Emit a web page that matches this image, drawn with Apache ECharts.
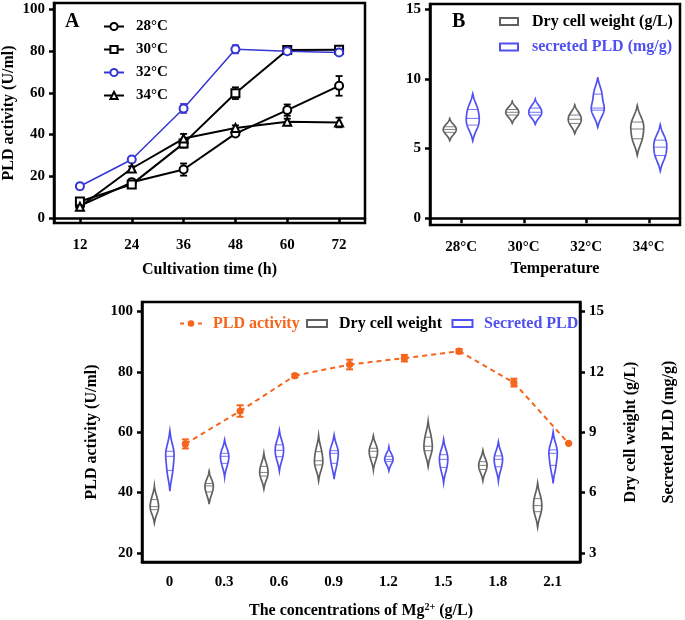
<!DOCTYPE html>
<html><head><meta charset="utf-8">
<script src="https://cdn.jsdelivr.net/npm/echarts@6/dist/echarts.min.js"></script>
<style>html,body{margin:0;padding:0;background:#fff}#c{width:685px;height:620px}</style>
</head><body><div id="c"></div>
<script>
// ---------- Panel A data ----------
const timeCats = ['12', '24', '36', '48', '60', '72'];
const act28 = [5.9, 17.2, 23.3, 40.5, 51.7, 63.3];
const err28 = [1.0, 1.5, 2.9, 1.2, 2.7, 4.7];
const act30 = [8.0, 16.2, 35.8, 59.8, 80.4, 80.5];
const err30 = [1.0, 1.2, 2.0, 2.8, 1.2, 1.0];
const act32 = [15.3, 28.1, 52.5, 80.8, 79.8, 79.2];
const err32 = [1.5, 1.0, 2.2, 2.0, 1.0, 1.0];
const act34 = [5.5, 23.8, 38.1, 43.2, 46.1, 45.8];
const err34 = [1.0, 1.0, 2.2, 1.2, 1.5, 2.3];
const aYTicks = [0, 20, 40, 60, 80, 100];

// ---------- Panel B data (three replicates each) ----------
const tempCats = ['28°C', '30°C', '32°C', '34°C'];
const dcwTemp = [[6.16, 6.37, 6.56], [7.4, 7.6, 7.8], [6.8, 7.1, 7.4], [5.7, 6.4, 6.9]];
const pldTemp = [[6.68, 7.16, 7.8], [7.4, 7.6, 7.9], [7.75, 7.9, 8.9], [4.5, 5.1, 5.6]];
const bYTicks = [0, 5, 10, 15];

// ---------- Panel C data ----------
const mgCats = ['0', '0.3', '0.6', '0.9', '1.2', '1.5', '1.8', '2.1'];
const pldAct = [56.1, 67.0, 78.7, 82.4, 84.5, 86.8, 76.4, 56.3];
const pldErr = [1.5, 1.9, 0.5, 1.6, 1.1, 0.7, 1.3, 0];
const dcwMg = [[5.15, 5.3, 5.65], [6.03, 6.33, 6.45], [6.82, 7.0, 7.3], [7.37, 7.58, 8.03],
               [7.75, 8.05, 8.2], [8.08, 8.3, 8.75], [7.15, 7.35, 7.53], [5.05, 5.35, 5.7]];
const secMg = [[7.1, 7.8, 8.05], [7.45, 7.8, 7.95], [7.78, 8.1, 8.37], [7.45, 7.95, 8.08],
               [7.55, 7.65, 7.8], [7.25, 7.65, 7.88], [7.28, 7.65, 7.82], [7.35, 7.95, 8.12]];
const cLeftTicks = [20, 40, 60, 80, 100];
const cRightTicks = [3, 6, 9, 12, 15];

// ---------- styles ----------
const FONT = 'Liberation Serif';
const BLACK = '#000';
const GRAY = '#606060';
const BLUE = '#5050f0';
const BLUE_A = '#3636d2';
const ORANGE = '#f5651c';
const txt = (size, color) => ({ fontFamily: FONT, fontWeight: 'bold', fontSize: size, color: color || BLACK });

function errRender(color, dx, cap, lw) {
  return function (params, api) {
    const x = api.value(0), v = api.value(1), e = api.value(2);
    if (!e) return null;
    const t = api.coord([x, v + e]), b = api.coord([x, v - e]);
    const px = t[0] + dx;
    const segs = [
      { x1: px, y1: t[1], x2: px, y2: b[1] },
      { x1: px - cap, y1: t[1], x2: px + cap, y2: t[1] },
      { x1: px - cap, y1: b[1], x2: px + cap, y2: b[1] }
    ];
    return { type: 'group', children: segs.map(s => ({ type: 'line', shape: s, style: { stroke: color, lineWidth: lw } })) };
  };
}

function violinRender(dx, halfW, color) {
  return function (params, api) {
    const cat = api.value(0);
    const vals = [api.value(1), api.value(2), api.value(3)].sort((a, b) => a - b);
    const mean = (vals[0] + vals[1] + vals[2]) / 3;
    const sd = Math.sqrt(vals.reduce((s, x) => s + (x - mean) * (x - mean), 0) / 2);
    const h = 0.11 + 0.58 * sd;
    const lo = vals[0] - 2.6 * h, hi = vals[2] + 2.6 * h;
    const dens = v => vals.reduce((s, x) => s + Math.exp(-0.5 * ((v - x) / h) * ((v - x) / h)), 0);
    const N = 60;
    const samples = [];
    for (let k = 0; k <= N; k++) { const v = lo + (hi - lo) * k / N; samples.push([v, dens(v)]); }
    const dEnd = Math.max(samples[0][1], samples[N][1]);
    const dMax = Math.max.apply(null, samples.map(s => s[1]));
    const wOf = d => halfW * Math.pow(Math.max(0, (d - dEnd) / (dMax - dEnd)), 0.7);
    const cx = api.coord([cat, 0])[0] + dx;
    const left = [], right = [];
    samples.forEach(s => {
      const y = api.coord([cat, s[0]])[1];
      const w = wOf(s[1]);
      left.push([cx - w, y]);
      right.push([cx + w, y]);
    });
    const pts = left.concat(right.reverse());
    const children = [{ type: 'polygon', shape: { points: pts }, style: { fill: 'none', stroke: color, lineWidth: 1.7 } }];
    vals.forEach(v => {
      const y = api.coord([cat, v])[1];
      const w = wOf(dens(v));
      children.push({ type: 'line', shape: { x1: cx - w, y1: y, x2: cx + w, y2: y }, style: { stroke: color, lineWidth: 1, opacity: 0.8 } });
    });
    return { type: 'group', children: children };
  };
}

function orangeRender(dx) {
  return function (params, api) {
    const i = api.value(0), v = api.value(1), e = api.value(2);
    const p = api.coord([i, v]); p[0] += dx;
    const children = [];
    const k = params.dataIndex;
    if (k < pldAct.length - 1) {
      const q = api.coord([k + 1, pldAct[k + 1]]); q[0] += dx;
      children.push({ type: 'line', shape: { x1: p[0], y1: p[1], x2: q[0], y2: q[1] }, style: { stroke: ORANGE, lineWidth: 2, lineDash: [5, 4] }, z2: 1 });
    }
    if (e) {
      const t = api.coord([i, v + e]), b = api.coord([i, v - e]);
      [[p[0], t[1], p[0], b[1]], [p[0] - 3.5, t[1], p[0] + 3.5, t[1]], [p[0] - 3.5, b[1], p[0] + 3.5, b[1]]].forEach(s => {
        children.push({ type: 'line', shape: { x1: s[0], y1: s[1], x2: s[2], y2: s[3] }, style: { stroke: ORANGE, lineWidth: 2 }, z2: 2 });
      });
    }
    children.push({ type: 'circle', shape: { cx: p[0], cy: p[1], r: 3.6 }, style: { fill: ORANGE }, z2: 3 });
    return { type: 'group', children: children };
  };
}

const axisLine = { show: true, lineStyle: { color: BLACK, width: 2.5 } };
const tickStyle = { color: BLACK, width: 2.5 };

const option = {
  animation: false,
  backgroundColor: '#fff',
  grid: [
    { left: 54, top: 3, width: 311, height: 220, show: true, borderColor: BLACK, borderWidth: 2.5 },
    { left: 430, top: 4, width: 250, height: 221, show: true, borderColor: BLACK, borderWidth: 2.5 },
    { left: 142, top: 302, width: 445, height: 260, show: true, borderColor: BLACK, borderWidth: 2.5 }
  ],
  legend: {
    data: ['28°C', '30°C', '32°C', '34°C'],
    orient: 'vertical', left: 98, top: 14, itemWidth: 20, itemHeight: 9, itemGap: 8,
    selectedMode: false,
    textStyle: Object.assign(txt(15), { padding: [0, 0, 0, 7] })
  },
  xAxis: [
    { gridIndex: 0, type: 'category', data: timeCats, boundaryGap: true, axisLine: axisLine,
      axisTick: { show: true, alignWithLabel: true, length: 5, lineStyle: tickStyle },
      axisLabel: Object.assign(txt(15), { margin: 15 }),
      name: 'Cultivation time (h)', nameLocation: 'middle', nameGap: 39, nameTextStyle: txt(16) },
    { gridIndex: 1, type: 'category', data: tempCats, boundaryGap: true, axisLine: axisLine,
      axisTick: { show: true, alignWithLabel: true, length: 5, lineStyle: tickStyle },
      axisLabel: Object.assign(txt(15), { margin: 15 }),
      name: 'Temperature', nameLocation: 'middle', nameGap: 35.5, nameTextStyle: txt(16) },
    { gridIndex: 2, type: 'category', data: mgCats, boundaryGap: true, axisLine: axisLine,
      axisTick: { show: false },
      axisLabel: Object.assign(txt(15), { margin: 13 }),
      name: '{a|The concentrations of Mg}{s|2+}{a| (g/L)}', nameLocation: 'middle', nameGap: 40,
      nameTextStyle: { rich: { a: txt(16), s: Object.assign(txt(10), { verticalAlign: 'top', padding: [0, 0, 8, 0] }) } } }
  ],
  yAxis: [
    { gridIndex: 0, type: 'value', min: -2.25, max: 102.9, axisLine: axisLine, splitLine: { show: false },
      axisTick: { show: true, length: 5, lineStyle: tickStyle, customValues: aYTicks },
      axisLabel: Object.assign(txt(15), { margin: 9, customValues: aYTicks }),
      name: 'PLD activity (U/ml)', nameLocation: 'middle', nameGap: 37, nameTextStyle: txt(16) },
    { gridIndex: 1, type: 'value', min: -0.48, max: 15.36, axisLine: axisLine, splitLine: { show: false },
      axisTick: { show: true, length: 5, lineStyle: tickStyle, customValues: bYTicks },
      axisLabel: Object.assign(txt(15), { margin: 9, customValues: bYTicks }) },
    { gridIndex: 2, type: 'value', min: 17.0, max: 103.1, axisLine: axisLine, splitLine: { show: false },
      axisTick: { show: true, length: 5, lineStyle: tickStyle, customValues: cLeftTicks },
      axisLabel: Object.assign(txt(15), { margin: 9, customValues: cLeftTicks }),
      name: 'PLD activity (U/ml)', nameLocation: 'middle', nameGap: 33, nameTextStyle: txt(16) },
    { gridIndex: 2, type: 'value', position: 'right', min: 2.55, max: 15.465, axisLine: axisLine, splitLine: { show: false },
      axisTick: { show: true, length: 5, lineStyle: tickStyle, customValues: cRightTicks },
      axisLabel: Object.assign(txt(15), { margin: 9, customValues: cRightTicks }),
      name: 'Dry cell weight (g/L)', nameLocation: 'middle', nameGap: 43, nameRotate: 90, nameTextStyle: txt(16) },
    { gridIndex: 2, type: 'value', position: 'right', min: 2.55, max: 15.465,
      axisLine: { show: false }, axisTick: { show: false }, axisLabel: { show: false }, splitLine: { show: false },
      name: 'Secreted PLD (mg/g)', nameLocation: 'middle', nameGap: 81, nameRotate: 90, nameTextStyle: txt(16) }
  ],
  graphic: [
    { type: 'text', left: 65, top: 12, style: { text: 'A', font: 'bold 20px "Liberation Serif"', fill: BLACK } },
    { type: 'text', left: 452, top: 12, style: { text: 'B', font: 'bold 20px "Liberation Serif"', fill: BLACK } },
    // legend B
    { type: 'rect', shape: { x: 500, y: 18, width: 18, height: 7 }, style: { fill: 'none', stroke: GRAY, lineWidth: 2 } },
    { type: 'text', x: 532, y: 21.5, style: { text: 'Dry cell weight (g/L)', font: 'bold 16px "Liberation Serif"', fill: BLACK, verticalAlign: 'middle' } },
    { type: 'rect', shape: { x: 500, y: 43.5, width: 18, height: 7 }, style: { fill: 'none', stroke: BLUE, lineWidth: 2 } },
    { type: 'text', x: 532, y: 47, style: { text: 'secreted PLD (mg/g)', font: 'bold 16px "Liberation Serif"', fill: BLUE, verticalAlign: 'middle' } },
    // legend C
    { type: 'line', shape: { x1: 180, y1: 323.5, x2: 202, y2: 323.5 }, style: { stroke: ORANGE, lineWidth: 2, lineDash: [4, 5] } },
    { type: 'circle', shape: { cx: 191, cy: 323.5, r: 3.3 }, style: { fill: ORANGE } },
    { type: 'text', x: 213, y: 323.5, style: { text: 'PLD activity', font: 'bold 16px "Liberation Serif"', fill: ORANGE, verticalAlign: 'middle' } },
    { type: 'rect', shape: { x: 307, y: 320, width: 20, height: 7 }, style: { fill: 'none', stroke: GRAY, lineWidth: 2 } },
    { type: 'text', x: 339, y: 323.5, style: { text: 'Dry cell weight', font: 'bold 16px "Liberation Serif"', fill: BLACK, verticalAlign: 'middle' } },
    { type: 'rect', shape: { x: 452.5, y: 320, width: 20, height: 7 }, style: { fill: 'none', stroke: BLUE, lineWidth: 2 } },
    { type: 'text', x: 484, y: 323.5, style: { text: 'Secreted PLD', font: 'bold 16px "Liberation Serif"', fill: BLUE, verticalAlign: 'middle' } }
  ],
  series: [
    // Panel A error bars
    { type: 'custom', xAxisIndex: 0, yAxisIndex: 0, encode: { x: 0, y: 1 }, z: 2, data: act28.map((v, i) => [i, v, err28[i]]), renderItem: errRender(BLACK, 0, 3.5, 1.8) },
    { type: 'custom', xAxisIndex: 0, yAxisIndex: 0, encode: { x: 0, y: 1 }, z: 2, data: act30.map((v, i) => [i, v, err30[i]]), renderItem: errRender(BLACK, 0, 3.5, 1.8) },
    { type: 'custom', xAxisIndex: 0, yAxisIndex: 0, encode: { x: 0, y: 1 }, z: 2, data: act32.map((v, i) => [i, v, err32[i]]), renderItem: errRender(BLUE_A, 0, 3.5, 1.5) },
    { type: 'custom', xAxisIndex: 0, yAxisIndex: 0, encode: { x: 0, y: 1 }, z: 2, data: act34.map((v, i) => [i, v, err34[i]]), renderItem: errRender(BLACK, 0, 3.5, 1.8) },
    // Panel A lines
    { name: '28°C', type: 'line', xAxisIndex: 0, yAxisIndex: 0, data: act28, symbol: 'emptyCircle', symbolSize: 8, z: 3,
      lineStyle: { color: BLACK, width: 2 }, itemStyle: { color: BLACK, borderWidth: 1.8 } },
    { name: '30°C', type: 'line', xAxisIndex: 0, yAxisIndex: 0, data: act30, symbol: 'emptyRect', symbolSize: 8, z: 3,
      lineStyle: { color: BLACK, width: 2 }, itemStyle: { color: BLACK, borderWidth: 1.8 } },
    { name: '32°C', type: 'line', xAxisIndex: 0, yAxisIndex: 0, data: act32, symbol: 'emptyCircle', symbolSize: 8, z: 3,
      lineStyle: { color: BLUE_A, width: 1.5 }, itemStyle: { color: BLUE_A, borderWidth: 1.8 } },
    { name: '34°C', type: 'line', xAxisIndex: 0, yAxisIndex: 0, data: act34, symbol: 'emptyTriangle', symbolSize: 8, z: 3,
      lineStyle: { color: BLACK, width: 2 }, itemStyle: { color: BLACK, borderWidth: 1.8 } },
    // Panel B violins
    { type: 'custom', xAxisIndex: 1, yAxisIndex: 1, encode: { x: 0, y: [1, 2, 3] }, data: dcwTemp.map((r, i) => [i].concat(r)), renderItem: violinRender(-11.5, 6.5, GRAY) },
    { type: 'custom', xAxisIndex: 1, yAxisIndex: 1, encode: { x: 0, y: [1, 2, 3] }, data: pldTemp.map((r, i) => [i].concat(r)), renderItem: violinRender(11.5, 6.5, BLUE) },
    // Panel C violins
    { type: 'custom', xAxisIndex: 2, yAxisIndex: 3, encode: { x: 0, y: [1, 2, 3] }, data: dcwMg.map((r, i) => [i].concat(r)), renderItem: violinRender(-15, 4.2, GRAY) },
    { type: 'custom', xAxisIndex: 2, yAxisIndex: 4, encode: { x: 0, y: [1, 2, 3] }, data: secMg.map((r, i) => [i].concat(r)), renderItem: violinRender(0.5, 4.2, BLUE) },
    // Panel C PLD activity
    { type: 'custom', xAxisIndex: 2, yAxisIndex: 2, encode: { x: 0, y: 1 }, z: 4, data: pldAct.map((v, i) => [i, v, pldErr[i]]), renderItem: orangeRender(16) }
  ]
};
const chart = echarts.init(document.getElementById('c'), null, { renderer: 'canvas' });
chart.setOption(option);
</script></body></html>
